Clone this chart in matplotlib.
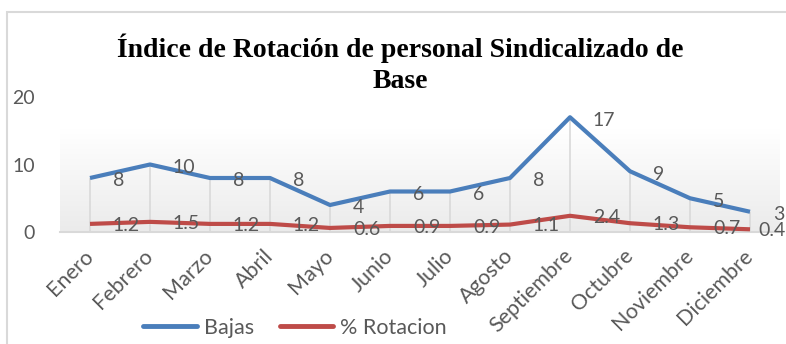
import numpy as np
import matplotlib
matplotlib.use("Agg")
import matplotlib.pyplot as plt
from matplotlib.colors import LinearSegmentedColormap
from matplotlib.patches import Rectangle

plt.rcParams['font.family'] = ['Lato', 'DejaVu Sans']

# ---- Datos ----
meses = ['Enero', 'Febrero', 'Marzo', 'Abril', 'Mayo', 'Junio', 'Julio',
         'Agosto', 'Septiembre', 'Octubre', 'Noviembre', 'Diciembre']
bajas = [8, 10, 8, 8, 4, 6, 6, 8, 17, 9, 5, 3]
rotacion = [1.2, 1.5, 1.2, 1.2, 0.6, 0.9, 0.9, 1.1, 2.4, 1.3, 0.7, 0.4]
y_ticks = [0, 10, 20]

AZUL = '#4A7EBB'
ROJO = '#BE4B48'
GRIS_TXT = '#595959'
GRIS_LIN = '#D9D9D9'

W, H = 786, 344
fig = plt.figure(figsize=(W / 100, H / 100), dpi=100)

# borde del area del grafico
fig.patches.append(Rectangle((7 / W, -0.02), 1.1, (H - 12) / H + 0.02,
                             transform=fig.transFigure, fill=False,
                             edgecolor=GRIS_LIN, linewidth=1.5))

ax = fig.add_axes([60 / W, (H - 232) / H, 720 / W, (232 - 97) / H])
x = np.arange(len(meses))
ax.set_xlim(-0.5, len(meses) - 0.5)
ax.set_ylim(0, 20)

# pared de fondo con degradado
cmap = LinearSegmentedColormap.from_list('pared', ['#EBEBEB', '#FFFFFF'])
grad = np.linspace(0, 1, 100).reshape(-1, 1)
ax.imshow(grad, extent=(-0.5, len(meses) - 0.5, 0, 15.3), origin='lower',
          aspect='auto', cmap=cmap, zorder=0)

# lineas de caida hasta cada punto
ax.vlines(x, 0, bajas, color=GRIS_LIN, linewidth=1.2, zorder=1)

ax.plot(x, bajas, color=AZUL, linewidth=3.0, solid_capstyle='butt', zorder=3, label='Bajas')
ax.plot(x, rotacion, color=ROJO, linewidth=3.0, solid_capstyle='butt', zorder=3, label='% Rotacion')

for xi, v in zip(x, bajas):
    ax.annotate(f"{v:g}", (xi, v), xytext=(16.5, -2), textcoords='offset points',
                ha='left', va='center', fontsize=14, color=GRIS_TXT,
                annotation_clip=False, zorder=4)
for i, (xi, v) in enumerate(zip(x, rotacion)):
    # la ultima etiqueta se acerca al punto para no salirse del borde
    dx = 6 if i == len(rotacion) - 1 else 16.5
    ax.annotate(f"{v:g}", (xi, v), xytext=(dx, -1), textcoords='offset points',
                ha='left', va='center', fontsize=14, color=GRIS_TXT,
                annotation_clip=False, zorder=4)

for s in ['top', 'right', 'left']:
    ax.spines[s].set_visible(False)
ax.spines['bottom'].set_color(GRIS_LIN)
ax.spines['bottom'].set_linewidth(1.5)

ax.set_yticks(y_ticks)
ax.tick_params(axis='y', length=0, pad=18, labelsize=14, labelcolor=GRIS_TXT)
ax.set_xticks(x)
ax.set_xticklabels(meses, rotation=45, ha='right', va='center',
                   rotation_mode='anchor', fontsize=15.5, color=GRIS_TXT)
ax.tick_params(axis='x', length=0, pad=15)

fig.text(400 / W, (H - 64) / H,
         'Índice de Rotación de personal Sindicalizado de\nBase',
         ha='center', va='center', fontsize=20, fontweight='bold',
         family='Liberation Serif', linespacing=1.3, color='black')

leg = fig.legend(loc='center', bbox_to_anchor=(295 / W, 16 / H), ncol=2,
                 frameon=False, fontsize=15.5, handlelength=2.5,
                 handletextpad=0.3, columnspacing=1.2)
for t in leg.get_texts():
    t.set_color(GRIS_TXT)
for l in leg.get_lines():
    l.set_linewidth(3.5)
    l.set_solid_capstyle('round')

fig.savefig('out.png', dpi=100)
